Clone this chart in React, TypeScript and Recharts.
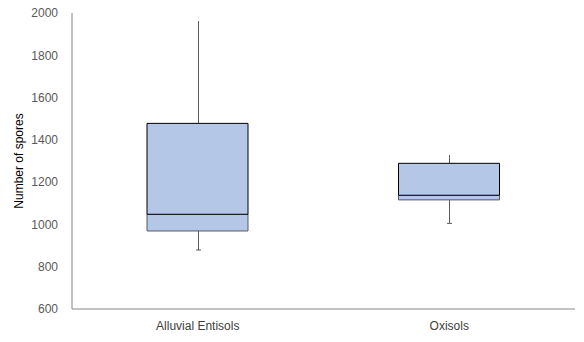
import React from 'react';
import { ComposedChart, Bar, XAxis, YAxis } from 'recharts';

const categories = ['Alluvial Entisols', 'Oxisols'];
const minValues = [879, 1005];
const q1Values = [969, 1116];
const medianValues = [1048, 1138];
const q3Values = [1478, 1289];
const maxValues = [1962, 1328];
const yTicks = [600, 800, 1000, 1200, 1400, 1600, 1800, 2000];

const data = categories.map((name, i) => ({
  name,
  whisker: [minValues[i], maxValues[i]],
  lower: [q1Values[i], medianValues[i]],
  upper: [medianValues[i], q3Values[i]],
}));

const Whisker = (props: any) => {
  const { x, y, width, height } = props;
  const cx = Math.round(x + width / 2) + 0.5;
  const bottom = y + height;
  return (
    <g>
      <line x1={cx} x2={cx} y1={y} y2={bottom} stroke="#595959" strokeWidth={1} />
      <line x1={cx - 2.5} x2={cx + 2.5} y1={bottom} y2={bottom} stroke="#595959" strokeWidth={1} />
    </g>
  );
};

const font = '"Liberation Sans", Arial, sans-serif';

export default function App() {
  return (
    <div style={{ position: 'absolute', left: 0, top: 0, background: '#fff' }}>
      <ComposedChart
        width={584}
        height={342}
        data={data}
        margin={{ top: 13, right: 9, bottom: 0, left: 0 }}
        barSize={101}
        barGap={-101}
      >
        <XAxis
          dataKey="name"
          height={33}
          tickLine={false}
          tickSize={0}
          tickMargin={12}
          axisLine={{ stroke: '#868686' }}
          tick={{ fill: '#404040', fontSize: 12, fontFamily: font }}
        />
        <YAxis
          domain={[600, 2000]}
          ticks={yTicks}
          interval={0}
          width={72}
          tickLine={false}
          tickSize={0}
          tickMargin={14}
          axisLine={{ stroke: '#868686' }}
          tick={{ fill: '#595959', fontSize: 12, fontFamily: font }}
          label={{
            value: 'Number of spores',
            angle: -90,
            position: 'insideLeft',
            offset: 19,
            style: { textAnchor: 'middle', fill: '#000', fontSize: 12, fontFamily: font },
          }}
        />
        <Bar dataKey="whisker" isAnimationActive={false} shape={<Whisker />} />
        <Bar
          dataKey="lower"
          isAnimationActive={false}
          fill="#B4C7E7"
          stroke="#595959"
          strokeWidth={1}
        />
        <Bar
          dataKey="upper"
          isAnimationActive={false}
          fill="#B4C7E7"
          stroke="#000000"
          strokeWidth={1}
        />
      </ComposedChart>
    </div>
  );
}
